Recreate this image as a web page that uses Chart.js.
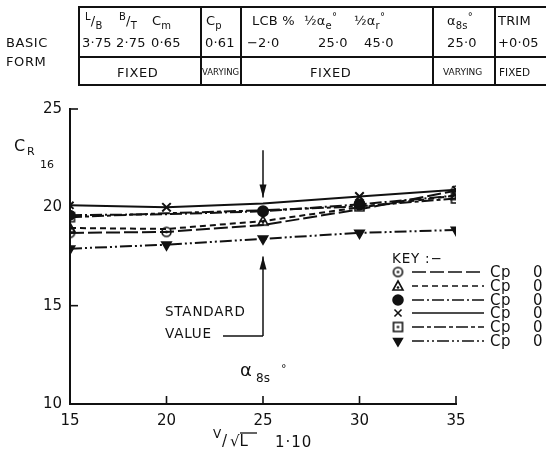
<!DOCTYPE html>
<html>
<head>
<meta charset="utf-8">
<script src="https://cdn.jsdelivr.net/npm/chart.js@4.4.0/dist/chart.umd.min.js"></script>
<style>
  html, body { margin: 0; padding: 0; background: #fff; }
  #wrap { position: relative; width: 546px; height: 456px; overflow: hidden; font-family: "DejaVu Sans", sans-serif; color: #111; }
  #chart { position: absolute; left: 0; top: 0; }
  .t { position: absolute; white-space: nowrap; font-size: 13px; line-height: 1; letter-spacing: 0.2px; }
  .sm { font-size: 8.5px; letter-spacing: 0; }
  .hl { position: absolute; height: 0; border-top: 2px solid #111; }
  .vl { position: absolute; width: 0; border-left: 2px solid #111; }
  sub, sup { font-size: 10px; line-height: 0; }
</style>
</head>
<body>
<div id="wrap">
  <canvas id="chart" width="546" height="456"></canvas>

  <!-- basic form table -->
  <div class="t" style="left:6px;top:36px;letter-spacing:0.6px;">BASIC</div>
  <div class="t" style="left:6px;top:55px;letter-spacing:0.6px;">FORM</div>
  <div class="hl" style="left:78px;top:6px;width:470px;"></div>
  <div class="hl" style="left:78px;top:56px;width:470px;"></div>
  <div class="hl" style="left:78px;top:84px;width:470px;"></div>
  <div class="vl" style="left:78px;top:6px;height:79px;"></div>
  <div class="vl" style="left:200px;top:6px;height:79px;"></div>
  <div class="vl" style="left:240px;top:6px;height:79px;"></div>
  <div class="vl" style="left:432px;top:6px;height:79px;"></div>
  <div class="vl" style="left:494px;top:6px;height:79px;"></div>

  <div class="t" style="left:85px;top:14px;"><sup>L</sup>/<sub>B</sub></div>
  <div class="t" style="left:119px;top:14px;"><sup>B</sup>/<sub>T</sub></div>
  <div class="t" style="left:152px;top:14px;">C<sub>m</sub></div>
  <div class="t" style="left:206px;top:14px;">C<sub>p</sub></div>
  <div class="t" style="left:252px;top:14px;">LCB %</div>
  <div class="t" style="left:304px;top:14px;">½α<sub>e</sub><sup>°</sup></div>
  <div class="t" style="left:354px;top:14px;">½α<sub>r</sub><sup>°</sup></div>
  <div class="t" style="left:447px;top:14px;">α<sub>8s</sub><sup>°</sup></div>
  <div class="t" style="left:498px;top:14px;">TRIM</div>

  <div class="t" style="left:82px;top:36px;">3·75</div>
  <div class="t" style="left:116px;top:36px;">2·75</div>
  <div class="t" style="left:151px;top:36px;">0·65</div>
  <div class="t" style="left:205px;top:36px;">0·61</div>
  <div class="t" style="left:247px;top:36px;">−2·0</div>
  <div class="t" style="left:318px;top:36px;">25·0</div>
  <div class="t" style="left:364px;top:36px;">45·0</div>
  <div class="t" style="left:447px;top:36px;">25·0</div>
  <div class="t" style="left:498px;top:36px;">+0·05</div>

  <div class="t" style="left:117px;top:66px;letter-spacing:0.6px;">FIXED</div>
  <div class="t sm" style="left:202px;top:68px;">VARYING</div>
  <div class="t" style="left:310px;top:66px;letter-spacing:0.6px;">FIXED</div>
  <div class="t sm" style="left:443px;top:68px;font-size:9px;">VARYING</div>
  <div class="t sm" style="left:499px;top:67px;font-size:10.5px;">FIXED</div>
</div>

<script>
// speed coordinate and residuary resistance readings for each Cp form
const speeds = [15, 20, 25, 30, 35];
const cpLabels = ['Cp 0', 'Cp 0', 'Cp 0', 'Cp 0', 'Cp 0', 'Cp 0'];
const crOpenCircle = [18.7, 18.75, 19.1, 19.9, 20.85];
const crTriangle   = [18.95, 18.9, 19.3, 20.0, 20.6];
const crDot        = [19.6, 19.65, 19.8, 20.15, 20.6];
const crCross      = [20.1, 20.0, 20.2, 20.55, 20.9];
const crSquare     = [19.5, 19.7, 19.85, 20.05, 20.45];
const crInvTri     = [17.9, 18.1, 18.4, 18.7, 18.85];
const yTicks = [10, 15, 20, 25];
const xTicks = [15, 20, 25, 30, 35];

const INK = '#111';
const FONT = '"DejaVu Sans", sans-serif';

// marker glyphs with a centre dot
function dottedGlyph(kind, r) {
  const c = document.createElement('canvas');
  const s = Math.ceil(2 * r + 4);
  c.width = s; c.height = s;
  const g = c.getContext('2d');
  g.strokeStyle = INK; g.fillStyle = INK; g.lineWidth = 1.6;
  const m = s / 2;
  g.beginPath();
  if (kind === 'circle') g.arc(m, m, r, 0, Math.PI * 2);
  else if (kind === 'square') g.rect(m - r, m - r, 2 * r, 2 * r);
  else { g.moveTo(m, m - r); g.lineTo(m + r, m + r * 0.8); g.lineTo(m - r, m + r * 0.8); g.closePath(); }
  g.stroke();
  g.beginPath(); g.arc(m, kind === 'triangle' ? m + 1.5 : m, 1.3, 0, Math.PI * 2); g.fill();
  return c;
}
const circleDot = dottedGlyph('circle', 4.5);
const squareDot = dottedGlyph('square', 4.5);
const triangleDot = dottedGlyph('triangle', 5);

function pts(vals) { return speeds.map((v, i) => ({ x: v, y: vals[i] })); }

const series = [
  { data: crOpenCircle, dash: [14, 4], style: circleDot, rot: 0, radius: [5, 5, 0, 0, 5] },
  { data: crTriangle, dash: [6, 4], style: triangleDot, rot: 0, radius: [5, 0, 5, 0, 5] },
  { data: crDot, dash: [12, 3, 2, 3], style: 'circle', rot: 0, radius: [4.5, 0, 5, 5, 0] },
  { data: crCross, dash: [], style: 'crossRot', rot: 0, radius: [5, 6, 0, 6, 5] },
  { data: crSquare, dash: [12, 3, 4, 3], style: squareDot, rot: 0, radius: [5, 0, 0, 5, 5] },
  { data: crInvTri, dash: [12, 3, 2, 3, 2, 3], style: 'triangle', rot: 180, radius: [5, 5, 5, 5, 5] }
];

const datasets = series.map((s, i) => ({
  label: cpLabels[i],
  data: pts(s.data),
  borderColor: INK,
  backgroundColor: INK,
  borderWidth: 2,
  borderDash: s.dash,
  pointStyle: s.style,
  rotation: s.rot,
  pointRadius: s.radius,
  pointBorderWidth: 2,
  pointBackgroundColor: INK,
  tension: 0
}));

// inward tick marks on both axes
const inwardTicks = {
  id: 'inwardTicks',
  afterDraw(chart) {
    const { ctx, scales: { x, y } } = chart;
    ctx.save();
    ctx.strokeStyle = INK; ctx.lineWidth = 1.6;
    [15, 25].forEach(v => {
      const py = y.getPixelForValue(v);
      ctx.beginPath(); ctx.moveTo(x.left, py); ctx.lineTo(x.left + 8, py); ctx.stroke();
    });
    [20, 25, 30, 35].forEach(v => {
      const px = x.getPixelForValue(v);
      ctx.beginPath(); ctx.moveTo(px, y.bottom); ctx.lineTo(px, y.bottom - 8); ctx.stroke();
    });
    ctx.restore();
  }
};

// axis titles, standard-value arrows and the key
const annotations = {
  id: 'annotations',
  afterDraw(chart) {
    const { ctx, scales: { x, y } } = chart;
    const H = Chart.helpers;
    ctx.save();
    ctx.fillStyle = INK; ctx.strokeStyle = INK;
    ctx.textBaseline = 'alphabetic';
    ctx.textAlign = 'left';
    const text = (str, px, py, size, spacing) => {
      ctx.font = `${size}px ${FONT}`;
      ctx.letterSpacing = (spacing || 0) + 'px';
      ctx.fillText(str, px, py);
    };

    // y title: C with subscript R and 16
    text('C', 14, 151, 16);
    text('R', 27, 155, 11);
    text('16', 40, 168, 11);

    // x title
    text('V', 213, 438, 12);
    text('/', 222, 446, 15);
    text('√L', 230, 446, 15);
    ctx.lineWidth = 1.3;
    ctx.beginPath(); ctx.moveTo(240, 433); ctx.lineTo(257, 433); ctx.stroke();
    text('1·10', 275, 447, 15, 1);

    // standard value marker at 25
    const sx = x.getPixelForValue(25);
    ctx.lineWidth = 1.5;
    const arrow = (x0, yFrom, yTo) => {
      ctx.beginPath(); ctx.moveTo(x0, yFrom); ctx.lineTo(x0, yTo); ctx.stroke();
      const d = Math.sign(yTo - yFrom);
      ctx.beginPath();
      ctx.moveTo(x0, yTo); ctx.lineTo(x0 - 3.5, yTo - d * 13); ctx.lineTo(x0 + 3.5, yTo - d * 13);
      ctx.closePath(); ctx.fill();
    };
    arrow(sx, y.getPixelForValue(22.9), y.getPixelForValue(20.5));
    const lineY = 336;
    arrow(sx, lineY, y.getPixelForValue(17.5));
    ctx.beginPath(); ctx.moveTo(223, lineY); ctx.lineTo(sx, lineY); ctx.stroke();
    text('STANDARD', 165, 316, 13.5, 0.8);
    text('VALUE', 165, 338, 13.5, 0.8);

    // angle label
    text('α', 240, 376, 18);
    text('8s', 256, 382, 12);
    text('°', 281, 372, 11);

    // key
    text('KEY :−', 392, 263, 13.5, 0.8);
    const rowY = [272, 286, 300, 313, 327, 341];
    chart.data.datasets.forEach((ds, i) => {
      const ry = rowY[i];
      ctx.fillStyle = INK;
      H.drawPoint(ctx, {
        pointStyle: ds.pointStyle, rotation: ds.rotation, radius: 5, borderWidth: 2
      }, 398, ry);
      ctx.setLineDash(ds.borderDash);
      ctx.lineWidth = 1.6;
      ctx.beginPath(); ctx.moveTo(412, ry); ctx.lineTo(484, ry); ctx.stroke();
      ctx.setLineDash([]);
      text(ds.label.slice(0, 2), 490, ry + 5, 15, 0.5);
      text(ds.label.slice(3), 533, ry + 5, 15);
    });
    ctx.restore();
  }
};

new Chart(document.getElementById('chart'), {
  type: 'line',
  data: { datasets },
  options: {
    responsive: false,
    animation: false,
    devicePixelRatio: 1,
    layout: { padding: { top: 109, right: 90, left: 0, bottom: 0 } },
    plugins: { legend: { display: false }, tooltip: { enabled: false } },
    scales: {
      x: {
        type: 'linear', min: 15, max: 35,
        afterFit(s) { s.height = 52; },
        afterBuildTicks(s) { s.ticks = xTicks.map(v => ({ value: v })); },
        grid: { display: false, drawTicks: false },
        border: { display: true, color: INK, width: 2 },
        ticks: { color: INK, padding: 8, font: { family: 'DejaVu Sans', size: 15 } }
      },
      y: {
        type: 'linear', min: 10, max: 25,
        afterFit(s) { s.width = 70; },
        afterBuildTicks(s) { s.ticks = yTicks.map(v => ({ value: v })); },
        grid: { display: false, drawTicks: false },
        border: { display: true, color: INK, width: 2 },
        ticks: { color: INK, padding: 8, font: { family: 'DejaVu Sans', size: 15 } }
      }
    }
  },
  plugins: [inwardTicks, annotations]
});
</script>
</body>
</html>
